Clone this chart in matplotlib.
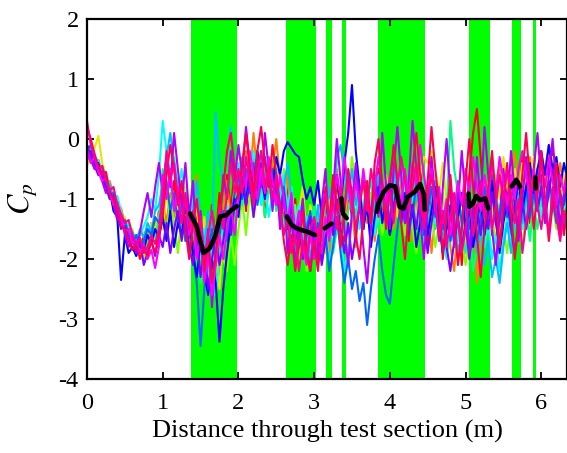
import numpy as np
import matplotlib
matplotlib.use("Agg")
import matplotlib.pyplot as plt

# ---------------- data ----------------
distance = np.round(np.arange(128) * 0.05, 2)   # 0.00 ... 6.35 m

cp_red = [-0.1,-0.3,-0.4,-0.35,-0.6,-0.75,-0.8,-1.1,-1.05,-1.3,-1.5,-1.55,-1.8,-1.7,-1.9,-1.6,-1.75,-1.4,-1.6,-1.2,
          -1.3,-0.8,-1.1,-0.7,-1.4,-1.0,-1.6,-1.2,-1.8,-1.3,-2.0,-1.5,-1.9,-1.1,-1.7,-0.9,-1.4,-0.6,-1.2,-0.5,
          -1.0,-0.4,-1.2,-0.6,-0.2,-0.9,-0.5,-1.3,-0.7,-0.3,-1.1,-0.6,-1.4,-0.8,-1.6,-1.0,-1.9,-1.3,-1.7,-2.0,
          -1.5,-1.8,-1.1,-1.6,-0.9,-1.4,-0.7,-1.2,-1.7,-0.9,-1.3,-0.6,-1.0,-1.5,-0.8,-1.4,-1.1,-0.5,-1.3,-0.9,
          -1.6,-0.7,-1.3,-0.4,-1.1,-1.7,-0.8,-1.4,-0.5,-1.2,-1.8,-0.9,-1.5,-1.0,-2.0,-1.3,-0.7,-1.6,-1.1,-2.1,
          -1.4,-0.6,0.1,0.5,-0.3,-1.2,-0.7,-1.6,-1.0,-0.4,-1.3,-0.8,-1.5,-0.6,-1.1,-0.3,-0.9,-1.4,-0.5,-1.0,
          -0.6,-1.3,-0.4,-0.2,-1.0,-1.6,-1.2,-1.4]
cp_orange = [-0.3,-0.2,-0.5,-0.45,-0.5,-0.8,-0.7,-0.95,-1.2,-1.15,-1.4,-1.65,-1.6,-1.8,-1.65,-1.8,-1.5,-1.7,-1.35,-1.5,
             -1.0,-1.4,-0.9,-1.3,-0.8,-1.5,-1.1,-1.7,-1.3,-0.6,-1.5,-1.9,-1.3,-2.2,-1.6,-2.5,-1.2,-0.7,-1.4,-0.9,
             -0.5,-1.1,-0.2,-0.7,0.1,-0.6,-1.0,-0.3,-0.9,-0.5,0.0,-0.7,-1.2,-0.6,-1.4,-1.1,-1.7,-1.0,-1.8,-1.4,
             -1.9,-1.2,-1.7,-1.0,-2.0,-1.3,-0.5,-1.1,-1.6,-0.8,-1.2,-1.8,-1.0,-0.6,-1.4,-0.9,-1.7,-1.2,-0.7,-1.3,
             -0.8,-1.5,-1.1,-0.6,-1.4,-0.9,-1.7,-1.2,-0.7,-1.5,-1.0,-1.9,-1.3,-0.8,-1.6,-1.1,-1.8,-2.2,-1.4,-0.9,
             -1.5,-2.0,-1.2,-2.4,-1.5,-0.8,-1.3,-0.6,-1.1,-0.4,-0.9,-1.4,-0.7,-0.2,-0.8,-1.2,-0.5,-0.3,-0.9,-0.6,
             -1.1,-0.5,-0.1,-0.6,-1.0,-0.4,-0.8,-1.2]
cp_yellow = [-0.45,-0.25,-0.15,0.05,-0.4,-0.6,-0.9,-0.85,-1.1,-1.35,-1.3,-1.6,-1.5,-1.75,-1.6,-1.55,-1.8,-1.4,-1.5,-1.25,
             -1.5,-0.9,-1.3,-1.6,-1.0,-1.4,-0.8,-1.2,-1.6,-1.1,-1.8,-1.3,-2.0,-1.5,-1.9,-2.5,-1.6,-1.0,-1.4,-0.8,
             -1.2,-0.6,-0.9,-0.3,-0.8,-0.2,-0.6,-1.0,-0.5,-0.9,-0.4,-1.1,-0.7,-1.3,-0.9,-1.5,-1.2,-0.8,-1.6,-1.1,
             -1.4,-1.7,-1.1,-1.5,-1.0,-1.6,-1.2,-0.9,-1.3,-0.7,-1.1,-1.5,-0.9,-1.3,-0.7,-1.2,-0.8,-1.4,-1.0,-0.6,
             -1.1,-0.7,-1.3,-0.9,-0.5,-1.2,-0.8,-1.4,-0.6,-0.3,-0.4,-0.2,-0.5,-0.9,-0.4,-1.1,-1.6,-1.0,-1.5,-1.2,
             -1.8,-1.3,-1.0,-1.5,-0.9,-1.3,-0.7,-1.2,-0.6,-1.0,-0.3,-0.8,-1.1,-0.5,-0.9,-0.4,-1.0,-0.6,-0.3,-0.7,
             -1.0,-0.5,-0.8,-0.3,-0.7,-1.1,-0.6,-0.9]
cp_chartreuse = [-0.2,-0.35,-0.3,-0.5,-0.65,-0.6,-0.9,-1.05,-1.0,-1.25,-1.55,-1.45,-1.7,-1.95,-1.85,-2.0,-1.7,-1.6,-1.75,-1.4,
                 -1.2,-1.6,-1.0,-1.4,-1.9,-1.3,-1.7,-1.2,-1.5,-1.9,-1.4,-2.1,-1.6,-1.2,-1.8,-1.4,-2.0,-2.2,-1.6,-2.1,
                 -1.5,-1.0,-1.6,-0.9,-1.3,-0.7,-1.1,-0.4,-0.8,-0.2,-0.6,-1.0,-0.5,-1.2,-1.6,-1.1,-2.0,-1.5,-2.2,-1.8,
                 -1.6,-2.1,-1.4,-1.9,-1.2,-0.9,-1.5,-1.1,-0.6,-1.0,-0.3,-0.8,-1.2,-0.7,-1.3,-0.9,-1.5,-1.1,-1.6,-1.2,
                 -0.9,-1.4,-0.7,-1.2,-1.6,-1.0,-1.5,-1.9,-1.3,-1.0,-1.6,-1.2,-1.8,-1.4,-0.9,-1.5,-1.1,-1.7,-2.0,-1.6,
                 -2.1,-1.7,-1.2,-1.6,-1.0,-1.4,-0.8,-1.3,-1.7,-1.1,-1.5,-1.9,-1.3,-0.9,-1.4,-1.8,-1.2,-1.6,-1.0,-0.5,
                 -0.9,-1.3,-0.7,-1.1,-1.5,-0.9,-1.2,-1.4]
cp_springgreen = [-0.15,-0.4,-0.25,-0.55,-0.45,-0.75,-1.0,-0.9,-1.2,-1.25,-1.5,-1.4,-1.65,-1.6,-1.9,-1.7,-1.85,-1.5,-1.65,-1.3,
                  -0.5,-1.0,-0.7,-1.2,-0.9,-1.5,-1.2,-1.8,-1.4,-2.0,-2.4,-1.9,-2.6,-2.2,-1.8,-1.3,-1.7,-1.2,-1.5,-1.0,
                  -0.7,-1.1,-0.6,-0.9,-0.4,-1.0,-0.7,-1.3,-0.9,-0.6,-1.2,-0.8,-1.5,-1.1,-0.8,-1.4,-1.8,-1.3,-1.9,-1.5,
                  -1.1,-1.6,-1.3,-0.9,-1.4,-1.9,-1.5,-1.1,-1.6,-1.2,-0.8,-1.3,-0.9,-1.4,-1.0,-0.7,-1.2,-1.5,-1.0,-1.3,
                  -1.5,-1.0,-0.6,-1.1,-0.8,-1.3,-0.9,-0.5,-1.0,-0.6,-1.2,-0.8,-1.5,-1.1,-1.7,-1.3,0.3,-0.5,-0.9,-1.4,
                  -1.9,-1.5,-2.2,-1.8,-1.3,-1.7,-1.1,-1.5,-0.9,-1.3,-0.7,-1.2,-1.6,-1.0,-1.4,-0.8,-1.2,-1.7,-1.1,-1.5,
                  -1.0,-1.4,-0.8,-1.2,-0.6,-1.0,-1.3,-0.9]
cp_cyan = [-0.3,-0.15,-0.4,-0.35,-0.6,-0.55,-0.8,-1.05,-0.95,-1.2,-1.45,-1.4,-1.55,-1.8,-1.6,-1.45,-1.3,-1.0,-1.2,-0.6,
           0.3,-0.2,-0.6,-0.3,-0.9,-0.5,-1.1,-1.4,-1.0,-1.6,-2.0,-1.5,-2.3,-1.8,-2.6,-2.0,-1.6,-1.1,-1.5,-0.9,
           -0.4,-0.8,-0.3,-0.7,-0.2,-0.6,-1.1,-0.7,-1.3,-0.9,-0.5,-1.0,-0.6,-1.2,-0.8,-1.5,-1.1,-1.7,-1.3,-1.9,
           -1.5,-1.2,-1.8,-1.4,-2.1,-1.7,-1.2,-1.6,-2.2,-1.8,-1.3,-0.9,-1.5,-1.1,-0.7,-1.2,-1.6,-1.0,-1.4,-0.8,
           -1.2,-0.6,-1.0,-0.4,-0.8,-1.3,-0.9,-1.5,-1.1,-1.7,-1.2,-0.8,-1.4,-1.0,-1.6,-2.0,-1.5,-1.1,-1.7,-1.3,
           -0.9,-1.4,-1.0,-1.6,-1.2,-1.8,-1.4,-2.0,-1.6,-2.2,-1.7,-1.3,-1.8,-1.4,-1.0,-1.5,-1.1,-0.7,-1.2,-0.8,
           -1.3,-0.9,-1.5,-1.1,-0.7,-1.2,-0.9,-1.4]
cp_skyblue = [-0.25,-0.3,-0.35,-0.6,-0.5,-0.8,-0.75,-1.0,-1.1,-1.3,-1.4,-1.65,-1.55,-1.7,-1.5,-1.65,-1.4,-1.55,-1.2,-1.1,
              -0.8,-0.3,0.1,-0.4,-0.8,-1.2,-0.9,-1.5,-1.2,-0.7,-1.3,-1.8,-1.2,-1.6,0.45,-0.4,-0.7,-0.3,0.2,-0.4,
              -0.8,-0.3,-0.9,-0.5,-1.1,-0.6,-0.2,-0.7,-0.4,-1.0,-0.6,-1.3,-0.8,-0.4,-1.0,-1.6,-1.2,-1.8,-1.4,-2.0,
              -1.6,-1.1,-1.7,-1.3,-0.8,-1.4,-0.3,-0.1,-0.6,-1.0,-0.5,-1.1,-0.8,-1.3,-0.9,-1.4,-1.0,-0.6,-1.1,-0.7,
              -1.1,-0.5,-0.9,-1.4,-1.0,-1.6,-1.2,-0.8,-1.3,-0.9,-1.5,-1.1,-0.7,-1.2,-1.6,-1.1,-1.7,-1.3,-1.9,-1.5,
              -1.2,-1.7,-1.3,-1.9,-1.5,-2.1,-1.7,-2.3,-2.0,-2.4,-1.8,-1.4,-1.9,-1.3,-0.9,-1.4,-1.0,-0.6,-1.1,-0.5,
              -0.9,-1.3,-0.8,-1.2,-0.6,-1.0,-1.4,-1.1]
cp_azure = [-0.2,-0.1,-0.4,-0.5,-0.45,-0.7,-0.95,-0.9,-1.15,-1.4,-1.35,-1.6,-1.75,-1.6,-1.8,-1.7,-1.5,-1.6,-1.3,-1.4,
            -1.1,-0.7,-1.2,-0.9,-1.4,-1.1,-1.7,-1.3,-1.9,-2.4,-3.45,-2.5,-1.9,-1.5,-2.1,-1.6,-1.2,-1.7,-1.3,-0.9,
            -0.6,-1.0,-0.5,-0.9,-0.4,-1.1,-0.7,-0.3,-0.8,-0.5,-0.9,-1.2,-0.8,-1.4,-1.0,-1.6,-1.3,-1.9,-1.5,-1.2,
            -1.8,-1.4,-2.0,-1.6,-2.2,-1.8,-1.3,-1.9,-2.4,-2.0,-2.5,-2.2,-2.7,-2.4,-3.1,-2.5,-2.0,-1.6,-2.2,-2.6,
            -2.75,-2.1,-1.5,-1.0,-1.4,-0.9,-1.3,-0.7,-1.1,-1.6,-1.2,-0.8,-1.3,-0.9,-1.5,-1.1,-1.7,-1.3,-0.9,-1.4,
            -1.0,-1.5,-1.1,-1.7,-1.3,-0.8,-1.2,-0.6,-1.0,-1.4,-0.9,-1.3,-0.7,-1.1,-1.6,-1.2,-0.8,-1.3,-0.9,-1.2,
            -0.8,-1.2,-0.7,-1.0,-1.4,-0.9,-1.1,-0.8]
cp_blue = [-0.1,-0.3,-0.45,-0.4,-0.65,-0.8,-0.85,-1.2,-1.3,-2.35,-1.6,-1.9,-1.8,-1.95,-1.7,-1.85,-1.6,-1.75,-1.5,-1.65,
           -1.3,-1.7,-1.2,-1.8,-1.4,-1.6,-1.1,-1.5,-1.9,-2.3,-1.7,-2.2,-2.6,-2.0,-2.4,-3.38,-2.5,-1.9,-1.4,-1.0,
           -1.3,-0.7,-1.1,-0.5,-0.9,-0.2,-0.6,-1.0,-0.4,-0.8,-0.3,-0.6,-0.2,-0.05,-0.15,-0.25,-0.3,-0.7,-1.0,-0.8,
           -1.1,-0.7,-1.3,-0.9,-1.5,-1.0,-0.6,-1.2,-0.4,0.1,0.9,-0.2,-0.8,-1.5,-1.1,-1.8,-1.3,-0.8,-1.4,-1.0,
           -1.6,-1.2,-0.7,-1.3,-0.9,-1.5,-1.1,-1.8,-1.4,-1.0,-1.6,-1.2,-0.8,-1.4,-1.9,-1.5,-1.1,-1.7,-1.3,-0.9,
           -1.5,-1.1,-1.8,-1.4,-1.0,-1.6,-1.2,-0.7,-1.3,-1.9,-1.4,-1.0,-1.5,-1.1,-0.7,-1.2,-0.8,-0.4,-0.9,-0.5,
           -0.2,-0.6,-0.1,-0.5,-0.3,-0.8,-0.4,-0.7]
cp_violet = [-0.35,-0.2,-0.45,-0.6,-0.55,-0.8,-1.0,-0.95,-1.25,-1.5,-1.45,-1.7,-1.6,-1.85,-1.7,-2.1,-1.9,-1.7,-1.95,-1.6,
             -1.8,-1.4,-1.9,-1.5,-1.2,-1.7,-1.3,-1.8,-2.1,-1.6,-2.3,-1.8,-2.5,-2.0,-1.6,-2.1,-1.7,-1.2,-1.6,-1.1,
             -0.9,-0.5,-1.1,-0.7,-1.3,-0.8,-0.4,-0.9,-0.5,-1.1,-0.7,-1.3,-0.9,-1.5,-1.1,-1.7,-1.4,-2.0,-1.6,-1.3,
             -1.9,-1.5,-2.1,-1.7,-1.2,-1.6,-1.0,-1.5,-1.9,-1.4,-2.0,-1.6,-1.1,-1.5,-0.9,-1.3,-0.7,-1.2,-0.8,-1.3,
             -0.7,-1.2,-0.8,-1.4,-1.0,-1.6,-1.1,-1.5,-0.9,-1.4,-1.9,-1.4,-1.0,-1.6,-1.2,-1.8,-2.2,-1.7,-1.3,-1.8,
             -1.4,-2.0,-1.5,-1.1,-1.6,-1.0,-1.5,-0.9,-1.4,-1.8,-1.3,-0.9,-1.5,-1.9,-1.4,-1.0,-1.5,-1.1,-0.7,-1.2,
             -0.8,-1.3,-0.9,-0.5,-1.0,-1.4,-1.0,-0.7]
cp_purple = [-0.1,-0.35,-0.5,-0.45,-0.7,-0.9,-0.85,-1.1,-1.35,-1.3,-1.6,-1.8,-1.65,-1.9,-1.55,-1.2,-0.9,-1.3,-0.8,-0.4,
             -0.9,-0.3,-0.8,0.1,-0.5,-1.1,-0.4,-1.3,-0.7,-1.9,-1.2,-2.2,-1.5,-2.8,-2.0,-1.4,-0.6,-1.0,-0.2,-0.7,
             -0.1,-0.6,0.2,-0.4,-1.0,-0.3,-0.8,0.1,-0.5,-1.2,-0.6,-1.5,-0.9,-1.9,-1.3,-2.1,-1.5,-1.0,-1.8,-2.2,
             -1.4,-2.0,-1.1,-0.5,-1.6,-0.9,0.0,-0.7,-1.5,-2.1,-1.2,-0.4,-1.0,-1.8,-2.4,-1.5,-0.6,-1.2,0.1,-0.8,
             -1.5,-0.5,0.2,-0.6,-1.4,-0.7,0.3,-0.5,-1.3,-2.0,-1.1,-0.3,-1.0,-1.7,-0.8,0.0,-0.9,-1.8,-1.1,-0.2,
             -1.0,-1.9,-1.2,-0.3,-1.1,0.2,-0.6,-1.5,-2.1,-1.3,-0.5,-1.2,-0.2,-0.9,-1.7,-1.0,-0.3,-1.1,-0.5,0.1,
             -0.7,-1.4,-0.6,0.0,-0.8,-1.5,-0.9,-0.4]
cp_magenta = [-0.2,-0.4,-0.3,-0.55,-0.7,-0.65,-0.9,-1.1,-1.05,-1.3,-1.55,-1.5,-1.75,-1.7,-1.9,-1.75,-2.0,-1.85,-2.15,-1.8,
              -0.6,-1.0,-0.5,-1.2,-0.8,-1.4,-1.0,-1.6,-1.3,-2.0,-1.6,-2.4,-1.9,-2.6,-2.1,-1.6,-2.0,-1.5,-1.1,-1.6,
              -1.0,-0.5,-0.8,-0.2,-0.6,-1.0,-0.5,-0.9,-0.3,-0.7,-1.1,-0.6,-1.0,-1.4,-0.9,-1.6,-1.2,-1.8,-2.1,-1.6,
              -2.0,-1.5,-1.9,-1.3,-1.7,-1.1,-0.6,-1.0,-0.3,-0.8,-1.2,-0.7,-1.1,-0.5,-1.0,-1.4,-0.8,-0.3,-0.7,-1.1,
              -0.6,-0.2,-0.7,-1.1,-0.5,-1.0,-0.4,-0.8,-0.1,-0.6,-1.0,-0.5,-1.2,-0.8,-1.4,-1.0,-1.6,-1.2,-0.7,-1.1,
              -0.5,-0.9,-0.3,-0.8,-1.2,-0.6,-1.0,-0.4,-0.9,-0.3,-0.7,-1.1,-0.6,-1.0,-0.5,-0.2,-0.6,-1.0,-0.5,-0.9,
              -0.4,-0.8,-0.3,-0.7,-1.1,-0.6,-0.9,-0.5]
cp_rose = [0.2,0.0,-0.25,-0.45,-0.6,-0.55,-0.9,-1.0,-1.2,-1.45,-1.5,-1.7,-1.85,-1.75,-2.0,-1.8,-1.95,-1.7,-1.9,-1.6,
           -1.3,-0.6,-0.1,-0.5,-1.1,-0.7,-1.5,-2.0,-1.4,-1.0,-1.6,-2.2,-1.7,-2.4,-1.9,-1.3,-0.8,-0.2,0.1,-0.5,
           -1.0,-0.4,0.1,-0.5,-0.9,-0.2,0.2,-0.4,-0.8,-0.1,-0.6,-1.1,-1.7,-2.1,-1.6,-2.2,-1.8,-1.2,-1.9,-2.2,
           -1.7,-2.2,-1.5,-0.8,-1.4,-0.6,-1.1,-1.8,-1.2,-0.5,-0.9,-1.6,-2.0,-1.3,-0.7,-1.4,-0.4,0.0,-0.8,-1.5,
           -0.8,-0.1,-0.7,-1.4,-2.0,-1.2,-0.5,0.1,-0.6,-1.3,-0.7,0.2,-0.5,-1.1,-1.9,-1.3,-0.6,-1.4,-2.1,-1.5,
           -0.7,0.0,-0.8,-1.6,-2.3,-1.5,-0.8,-0.2,-1.0,-1.8,-1.1,-0.4,-1.2,-2.0,-1.4,-0.6,0.1,-0.7,-1.5,-0.9,
           -0.2,-1.0,-1.7,-1.1,-0.4,-0.9,-1.6,-1.0]
cp_pink = [0.3,-0.1,-0.3,-0.5,-0.45,-0.7,-0.85,-0.8,-1.1,-1.25,-1.4,-1.35,-1.6,-1.75,-1.65,-1.9,-1.8,-1.6,-1.75,-1.5,
           -1.0,-0.2,-0.7,-0.4,-1.0,-1.4,-0.9,-1.5,-1.2,-1.7,-1.3,-2.0,-1.6,-1.2,-1.7,-1.1,-1.5,-0.9,-0.4,-0.9,
           -0.5,-0.9,-0.3,-0.7,-1.1,-0.6,-0.2,-0.8,-0.5,-1.0,-0.6,-1.2,-1.6,-1.3,-1.9,-1.6,-2.2,-1.7,-2.0,-1.5,
           -1.3,-1.7,-1.2,-0.9,-1.4,-1.0,-1.5,-0.8,-1.2,-0.6,-1.0,-1.5,-1.1,-0.7,-1.2,-0.5,-0.9,-1.3,-0.8,-1.2,
           -0.9,-1.4,-0.8,-0.3,-0.7,-1.2,-0.8,-0.4,-1.0,-1.5,-1.0,-0.6,-1.1,-1.6,-1.2,-1.8,-1.3,-0.9,-1.4,-1.9,
           -1.5,-1.0,-1.6,-1.2,-0.7,-1.3,-0.9,-1.5,-1.1,-0.6,-1.0,-0.5,-0.9,-1.4,-1.0,-1.9,-1.4,-1.0,-0.6,-1.1,
           -1.5,-1.0,-1.6,-0.8,-1.3,-1.7,-1.2,-1.6]

series = [cp_red, cp_orange, cp_yellow, cp_chartreuse, cp_springgreen, cp_cyan,
          cp_skyblue, cp_azure, cp_blue, cp_violet, cp_purple, cp_magenta, cp_rose, cp_pink]
series_colors = ["#ff0000", "#ff8000", "#e6e600", "#80ff00", "#00ff80", "#00ffff",
                 "#00bfff", "#0066ff", "#0000ff", "#8000ff", "#b000ff", "#ff00ff", "#ff0050", "#ff0090"]

# green highlighted regions (start, end) in m
region_start = [1.38, 2.63, 3.16, 3.37, 3.84, 5.04, 5.62, 5.89]
region_end = [1.98, 3.02, 3.24, 3.42, 4.47, 5.32, 5.73, 5.93]

# mean curve segments within regions
mean_segments_x = [
    [1.36, 1.45, 1.49, 1.54, 1.62, 1.69, 1.76, 1.84, 1.91, 1.98],
    [2.64, 2.70, 2.77, 2.84, 2.90, 3.01],
    [3.14, 3.23],
    [3.36, 3.38, 3.43],
    [3.83, 3.85, 3.92, 4.00, 4.07, 4.13, 4.18, 4.24, 4.33, 4.40, 4.45, 4.46],
    [5.04, 5.05, 5.10, 5.14, 5.19, 5.26, 5.30],
    [5.61, 5.67, 5.72],
    [5.92, 5.92],
]
mean_segments_y = [
    [-1.24, -1.46, -1.68, -1.90, -1.82, -1.63, -1.29, -1.27, -1.18, -1.12],
    [-1.29, -1.43, -1.49, -1.52, -1.54, -1.60],
    [-1.49, -1.41],
    [-0.99, -1.24, -1.32],
    [-1.21, -1.07, -0.88, -0.77, -0.79, -1.13, -1.16, -0.96, -0.88, -0.75, -0.93, -1.18],
    [-0.91, -1.13, -1.07, -0.95, -1.02, -0.99, -1.16],
    [-0.79, -0.68, -0.79],
    [-0.64, -0.82],
]

x_ticks = [0, 1, 2, 3, 4, 5, 6]
y_ticks = [-4, -3, -2, -1, 0, 1, 2]

# ---------------- plot ----------------
plt.rcParams["font.family"] = ["Liberation Serif", "DejaVu Serif"]
plt.rcParams["mathtext.fontset"] = "stix"
plt.rcParams["axes.unicode_minus"] = False

W, H = 567, 453
fig = plt.figure(figsize=(W / 100, H / 100), dpi=100)
ax = fig.add_axes([87 / W, (H - 379) / H, 480 / W, 360 / H])

for s, e in zip(region_start, region_end):
    ax.axvspan(s, e, color="#00ff00", lw=0, zorder=1)

for vals, c in zip(series, series_colors):
    ax.plot(distance, vals, color=c, lw=1.5, zorder=2)

for mx, my in zip(mean_segments_x, mean_segments_y):
    ax.plot(mx, my, color="black", lw=3.3, zorder=3, solid_capstyle="round")

ax.set_xlim(0, 6.34)
ax.set_ylim(-4, 2)
ax.set_xticks(x_ticks)
ax.set_yticks(y_ticks)
ax.tick_params(direction="in", top=True, right=True, length=5, width=1.3,
               labelsize=17.5)
ax.tick_params(axis="x", pad=10)
ax.tick_params(axis="y", pad=6)
for sp in ax.spines.values():
    sp.set_linewidth(1.6)

ax.set_xlabel("Distance through test section (m)", fontsize=19, labelpad=4)
ax.set_ylabel("$C_p$", fontsize=22, labelpad=14)

fig.savefig("out.png", dpi=100)
